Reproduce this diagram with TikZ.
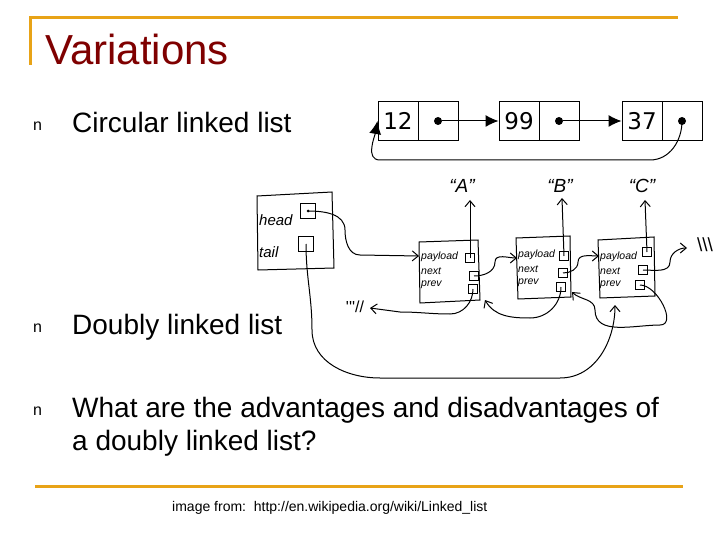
\documentclass[tikz,border=0pt]{standalone}
\usepackage{fontspec}
\setmainfont{Liberation Sans}
\newfontfamily\djv{DejaVu Sans}
\usetikzlibrary{arrows.meta}
\definecolor{orng}{HTML}{E8A317}
\definecolor{ttl}{HTML}{7F0000}
\tikzset{
  bul/.style={anchor=base west,font=\fontsize{16}{16}\selectfont,inner sep=0pt},
  txt/.style={anchor=base west,font=\fontsize{28}{30}\selectfont,inner sep=0pt},
  cell/.style={draw,line width=1pt,minimum width=40pt,minimum height=39pt,inner sep=0pt,font=\djv\fontsize{23}{23}\selectfont},
  dotc/.style={circle,fill,inner sep=0pt,minimum size=8pt},
  hand/.style={draw,line width=1pt},
  hw/.style={font=\fontsize{15}{15}\selectfont\itshape,anchor=west,inner sep=0pt},
  hws/.style={font=\fontsize{10.5}{10.5}\selectfont\itshape,anchor=west,inner sep=0pt},
  sq/.style={draw,line width=1pt,minimum size=13pt,inner sep=0pt},
  hl/.style={line width=1pt,-{Straight Barb[length=6pt,width=10pt]}},
  cl/.style={line width=1pt,-{Latex[length=13pt,width=12pt]}}
}
\begin{document}
\begin{tikzpicture}[x=1pt,y=-1pt]
\useasboundingbox (0,0) rectangle (720,540);
\fill[white] (0,0) rectangle (720,540);
\draw[orng,line width=3pt] (30,65) -- (30,18) -- (678,18);
\draw[orng,line width=3pt] (35,486) -- (683,486);
\node[anchor=base west,text=ttl,font=\fontsize{42}{42}\selectfont,inner sep=0pt] (title) at (45,65) {Variations};
\node[bul] (b1) at (33,131) {n};
\node[bul] (b2) at (33,332) {n};
\node[bul] (b3) at (33,415) {n};
\node[txt] (t1) at (72,133) {Circular linked list};
\node[txt] (t2) at (72,334) {Doubly linked list};
\node[txt] (t3) at (72,417) {What are the advantages and disadvantages of};
\node[txt] (t4) at (72,450) {a doubly linked list?};
\node[anchor=base west,font=\fontsize{14}{14}\selectfont,inner sep=0pt] (cap) at (172,511) {image from:\ \ http://en.wikipedia.org/wiki/Linked\_list};
% circular list
\node[cell] (v1) at (398,121) {12};
\node[cell] (p1) at (438,121) {};
\node[cell] (v2) at (519,121) {99};
\node[cell] (p2) at (559,121) {};
\node[cell] (v3) at (642,121) {37};
\node[cell] (p3) at (682,121) {};
\node[dotc] (d1) at (p1) {};
\node[dotc] (d2) at (p2) {};
\node[dotc] (d3) at (p3) {};
\draw[cl] (d1) -- (v2.west);
\draw[cl] (d2) -- (v3.west);
\draw[cl] (d3.center) to[out=-90,in=0] (650,160) -- (380,160) to[out=180,in=-100] (v1.west);
% hand drawn
\draw[hand] (257,196) -- (332,192) -- (334,268) -- (258,270) -- cycle;
\node[hw] (lh) at (259,220) {head};
\node[hw] (lt) at (259,252) {tail};
\node[sq,minimum size=15pt] (sh) at (308,211) {};
\node[sq,minimum size=15pt] (st) at (306,244) {};
\fill (sh) circle (1.5pt);
\draw[hand] (419,242) -- (478,240) -- (480,300) -- (420,303) -- cycle;
\draw[hand] (516,238) -- (570,236) -- (571,297) -- (518,299) -- cycle;
\draw[hand] (598,240) -- (654,237) -- (655,296) -- (600,298) -- cycle;
\foreach \n/\x/\y in {A/421/248,B/518/246,C/600/248}{
  \node[hws] (pl\n) at (\x,\y+9) {payload};
  \node[hws] (nx\n) at (\x,\y+23) {next};
  \node[hws] (pv\n) at (\x,\y+37) {prev};
}
\node[sq,minimum size=9pt] (sAp) at (470,258) {};
\node[sq,minimum size=9pt] (sAn) at (474,276) {};
\node[sq,minimum size=9pt] (sAv) at (473,289) {};
\node[sq,minimum size=9pt] (sBp) at (564,256) {};
\node[sq,minimum size=9pt] (sBn) at (563,273) {};
\node[sq,minimum size=9pt] (sBv) at (561,287) {};
\node[sq,minimum size=9pt] (sCp) at (647,252) {};
\node[sq,minimum size=9pt] (sCn) at (643,270) {};
\node[sq,minimum size=9pt] (sCv) at (640,285) {};
\node[font=\fontsize{19}{19}\selectfont\itshape] (LA) at (462,186) {\textquotedblleft A\textquotedblright};
\node[font=\fontsize{19}{19}\selectfont\itshape] (LB) at (560,186) {\textquotedblleft B\textquotedblright};
\node[font=\fontsize{19}{19}\selectfont\itshape] (LC) at (642,186) {\textquotedblleft C\textquotedblright};
\node[font=\fontsize{19}{19}\selectfont] (nr) at (705,245) {\textbackslash\textbackslash\textbackslash};
\node[font=\fontsize{16}{16}\selectfont] (nl) at (355,307) {\textquotesingle\textquotesingle\textquotesingle//};
\draw[hl] (sAp.center) -- (470,200);
\draw[hl] (sBp.center) -- (562,198);
\draw[hl] (sCp.center) -- (645,200);
\draw[hl] (sh.center) to[out=0,in=90] (345,230) to[out=-90,in=180] (360,255) -- (419,256);
\draw[hl] (sAn.center) to[out=0,in=-90] (495,262) to[out=90,in=180] (517,258);
\draw[hl] (sBn.center) to[out=0,in=-90] (578,262) to[out=90,in=180] (599,256);
\draw[hl] (sCn.center) to[out=0,in=-90] (670,262) to[out=90,in=180] (687,248);
\draw[hl] (sAv.center) to[out=-90,in=0] (450,314) to[out=180,in=0] (400,312) -- (370,308);
\draw[hl] (sBv.center) to[out=-90,in=0] (530,318) to[out=180,in=-60] (485,300);
\draw[hl] (sCv.center) to[out=0,in=0] (660,325) to[out=180,in=-90] (595,310) to[out=90,in=-45] (572,292);
\draw[hl] (st.center) to[out=-90,in=90] (312,330) to[out=-90,in=180] (380,378) to[out=0,in=180] (560,378) to[out=0,in=-90] (615,305);
\end{tikzpicture}
\end{document}
